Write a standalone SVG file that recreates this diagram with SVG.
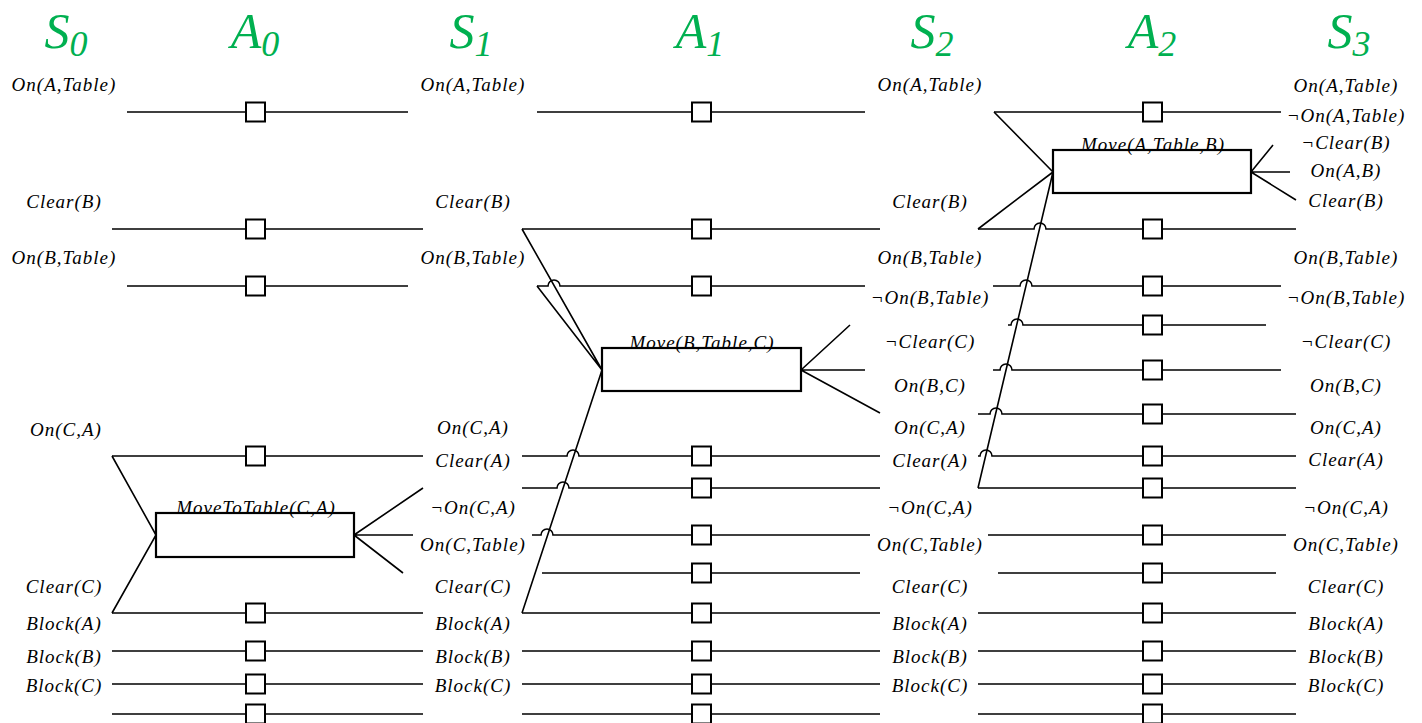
<svg xmlns="http://www.w3.org/2000/svg" width="1422" height="723" viewBox="0 0 1422 723">
<style>
.ln{stroke:#000;stroke-width:1.6;fill:none}
.sq{fill:#fff;stroke:#000;stroke-width:2}
.act{fill:#fff;stroke:#000;stroke-width:2.2}
.lbl{font-family:"Liberation Serif","Times New Roman",serif;font-style:italic;font-size:19px;letter-spacing:1px;text-anchor:middle;fill:#000}
.hdr{font-family:"Liberation Serif","Times New Roman",serif;font-style:italic;font-size:50px;fill:#00B050;text-anchor:middle}
.sub{font-size:36px}
</style>
<rect width="1422" height="723" fill="#fff"/>
<g id="headers">
<text class="hdr" x="66" y="48">S<tspan class="sub" dy="8">0</tspan></text>
<text class="hdr" x="255" y="48">A<tspan class="sub" dy="8">0</tspan></text>
<text class="hdr" x="471" y="48">S<tspan class="sub" dy="8">1</tspan></text>
<text class="hdr" x="700" y="48">A<tspan class="sub" dy="8">1</tspan></text>
<text class="hdr" x="932" y="48">S<tspan class="sub" dy="8">2</tspan></text>
<text class="hdr" x="1152" y="48">A<tspan class="sub" dy="8">2</tspan></text>
<text class="hdr" x="1349" y="48">S<tspan class="sub" dy="8">3</tspan></text>
</g>
<g id="connectors">
<path class="ln" d="M127 112H408M112 229H423M127 286H408M112 456H423M112 613H423M112 651H423M112 684H423M112 714H423"/>
<path class="ln" d="M112 456L156 535L112 613M354 535L423 488M354 535L413 535M354 535L403 573"/>
<path class="ln" d="M537 112H865M522 229H880M522 613H880M522 651H880M522 684H880M522 714H880M542 573H860"/>
<path class="ln" d="M537 286H548A6 6 0 0 1 560 286H865"/>
<path class="ln" d="M522 456H567A6 6 0 0 1 579 456H880"/>
<path class="ln" d="M522 488H557A6 6 0 0 1 569 488H880"/>
<path class="ln" d="M532 535H541A6 6 0 0 1 553 535H870"/>
<path class="ln" d="M522 229L602 370M537 286L602 370M522 613L602 370M801 370L850 325M801 370L865 370M801 370L880 413"/>
<path class="ln" d="M994 112H1281M978 488H1296M988 535H1286M998 573H1276M978 613H1296M978 651H1296M978 684H1296M978 714H1296"/>
<path class="ln" d="M978 229H1034A6 6 0 0 1 1046 229H1296"/>
<path class="ln" d="M993 286H1020A6 6 0 0 1 1032 286H1281"/>
<path class="ln" d="M1008 325H1011A6 6 0 0 1 1023 325H1266"/>
<path class="ln" d="M993 370H1000A6 6 0 0 1 1012 370H1281"/>
<path class="ln" d="M978 414H990A6 6 0 0 1 1002 414H1296"/>
<path class="ln" d="M978 456H980A6 6 0 0 1 992 456H1296"/>
<path class="ln" d="M994 112L1053 172M978 229L1053 172M978 488L1053 172M1251 172L1273 145M1251 172L1290 172M1251 172L1296 200"/>
</g>
<g id="noops-A0">
<rect class="sq" x="246" y="102.5" width="19" height="19"/>
<rect class="sq" x="246" y="219.5" width="19" height="19"/>
<rect class="sq" x="246" y="276.5" width="19" height="19"/>
<rect class="sq" x="246" y="446.5" width="19" height="19"/>
<rect class="sq" x="246" y="603.5" width="19" height="19"/>
<rect class="sq" x="246" y="641.5" width="19" height="19"/>
<rect class="sq" x="246" y="674.5" width="19" height="19"/>
<rect class="sq" x="246" y="704.5" width="19" height="19"/>
</g>
<g id="noops-A1">
<rect class="sq" x="692" y="102.5" width="19" height="19"/>
<rect class="sq" x="692" y="219.5" width="19" height="19"/>
<rect class="sq" x="692" y="276.5" width="19" height="19"/>
<rect class="sq" x="692" y="446.5" width="19" height="19"/>
<rect class="sq" x="692" y="478.5" width="19" height="19"/>
<rect class="sq" x="692" y="525.5" width="19" height="19"/>
<rect class="sq" x="692" y="563.5" width="19" height="19"/>
<rect class="sq" x="692" y="603.5" width="19" height="19"/>
<rect class="sq" x="692" y="641.5" width="19" height="19"/>
<rect class="sq" x="692" y="674.5" width="19" height="19"/>
<rect class="sq" x="692" y="704.5" width="19" height="19"/>
</g>
<g id="noops-A2">
<rect class="sq" x="1143" y="102.5" width="19" height="19"/>
<rect class="sq" x="1143" y="219.5" width="19" height="19"/>
<rect class="sq" x="1143" y="276.5" width="19" height="19"/>
<rect class="sq" x="1143" y="315.5" width="19" height="19"/>
<rect class="sq" x="1143" y="360.5" width="19" height="19"/>
<rect class="sq" x="1143" y="404.5" width="19" height="19"/>
<rect class="sq" x="1143" y="446.5" width="19" height="19"/>
<rect class="sq" x="1143" y="478.5" width="19" height="19"/>
<rect class="sq" x="1143" y="525.5" width="19" height="19"/>
<rect class="sq" x="1143" y="563.5" width="19" height="19"/>
<rect class="sq" x="1143" y="603.5" width="19" height="19"/>
<rect class="sq" x="1143" y="641.5" width="19" height="19"/>
<rect class="sq" x="1143" y="674.5" width="19" height="19"/>
<rect class="sq" x="1143" y="704.5" width="19" height="19"/>
</g>
<g id="action-MoveToTable-C-A">
<rect class="act" x="156" y="513" width="198" height="44"/>
<text class="lbl" x="256" y="514">MoveToTable(C,A)</text>
</g>
<g id="action-Move-B-Table-C">
<rect class="act" x="602" y="348" width="199" height="43"/>
<text class="lbl" x="702" y="349">Move(B,Table,C)</text>
</g>
<g id="action-Move-A-Table-B">
<rect class="act" x="1053" y="150" width="198" height="43"/>
<text class="lbl" x="1153" y="151">Move(A,Table,B)</text>
</g>
<g id="state-S0">
<text class="lbl" x="64" y="91">On(A,Table)</text>
<text class="lbl" x="64" y="208">Clear(B)</text>
<text class="lbl" x="64" y="264">On(B,Table)</text>
<text class="lbl" x="66" y="436">On(C,A)</text>
<text class="lbl" x="64" y="593">Clear(C)</text>
<text class="lbl" x="64" y="630">Block(A)</text>
<text class="lbl" x="64" y="663">Block(B)</text>
<text class="lbl" x="64" y="692">Block(C)</text>
</g>
<g id="state-S1">
<text class="lbl" x="473" y="91">On(A,Table)</text>
<text class="lbl" x="473" y="208">Clear(B)</text>
<text class="lbl" x="473" y="264">On(B,Table)</text>
<text class="lbl" x="473" y="434">On(C,A)</text>
<text class="lbl" x="473" y="467">Clear(A)</text>
<text class="lbl" x="473" y="514">¬On(C,A)</text>
<text class="lbl" x="473" y="551">On(C,Table)</text>
<text class="lbl" x="473" y="593">Clear(C)</text>
<text class="lbl" x="473" y="630">Block(A)</text>
<text class="lbl" x="473" y="663">Block(B)</text>
<text class="lbl" x="473" y="692">Block(C)</text>
</g>
<g id="state-S2">
<text class="lbl" x="930" y="91">On(A,Table)</text>
<text class="lbl" x="930" y="208">Clear(B)</text>
<text class="lbl" x="930" y="264">On(B,Table)</text>
<text class="lbl" x="930" y="304">¬On(B,Table)</text>
<text class="lbl" x="930" y="348">¬Clear(C)</text>
<text class="lbl" x="930" y="392">On(B,C)</text>
<text class="lbl" x="930" y="434">On(C,A)</text>
<text class="lbl" x="930" y="467">Clear(A)</text>
<text class="lbl" x="930" y="514">¬On(C,A)</text>
<text class="lbl" x="930" y="551">On(C,Table)</text>
<text class="lbl" x="930" y="593">Clear(C)</text>
<text class="lbl" x="930" y="630">Block(A)</text>
<text class="lbl" x="930" y="663">Block(B)</text>
<text class="lbl" x="930" y="692">Block(C)</text>
</g>
<g id="state-S3">
<text class="lbl" x="1346" y="92">On(A,Table)</text>
<text class="lbl" x="1346" y="122">¬On(A,Table)</text>
<text class="lbl" x="1346" y="149">¬Clear(B)</text>
<text class="lbl" x="1346" y="177">On(A,B)</text>
<text class="lbl" x="1346" y="207">Clear(B)</text>
<text class="lbl" x="1346" y="264">On(B,Table)</text>
<text class="lbl" x="1346" y="304">¬On(B,Table)</text>
<text class="lbl" x="1346" y="348">¬Clear(C)</text>
<text class="lbl" x="1346" y="392">On(B,C)</text>
<text class="lbl" x="1346" y="434">On(C,A)</text>
<text class="lbl" x="1346" y="466">Clear(A)</text>
<text class="lbl" x="1346" y="514">¬On(C,A)</text>
<text class="lbl" x="1346" y="551">On(C,Table)</text>
<text class="lbl" x="1346" y="593">Clear(C)</text>
<text class="lbl" x="1346" y="630">Block(A)</text>
<text class="lbl" x="1346" y="663">Block(B)</text>
<text class="lbl" x="1346" y="692">Block(C)</text>
</g>
</svg>
